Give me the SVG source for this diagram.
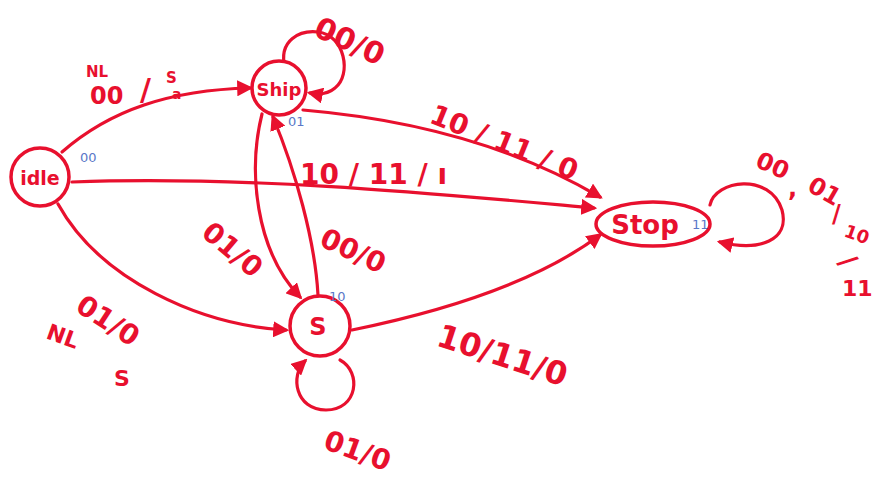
<svg xmlns="http://www.w3.org/2000/svg" width="873" height="478" viewBox="0 0 873 478">
<style>
.e{fill:none;stroke:#e8102e;stroke-width:3.2;stroke-linecap:round}
.n{fill:#fff;stroke:#e8102e;stroke-width:3.5}
.t{fill:#e8102e;font-family:"DejaVu Sans",sans-serif;font-weight:bold}
.b{fill:#5a78c8;font-family:"DejaVu Sans",sans-serif;font-size:13px}
</style>
<defs>
<marker id="a" viewBox="0 0 10 10" refX="8" refY="5" markerWidth="5" markerHeight="5" orient="auto">
<path d="M0,0 L10,5 L0,10 z" fill="#e8102e"/>
</marker>
</defs>
<rect width="873" height="478" fill="#fff"/>
<g id="connectors">
<path class="e" d="M62,152 C110,110 170,90 250,88" marker-end="url(#a)"/>
<path class="e" d="M72,182 C250,175 450,195 594,208" marker-end="url(#a)"/>
<path class="e" d="M303,110 C420,120 520,150 600,197" marker-end="url(#a)"/>
<path class="e" d="M285,68 C278,40 300,30 318,32 C345,35 352,75 335,88 C328,94 320,95 310,93" marker-end="url(#a)"/>
<path class="e" d="M262,114 C248,170 255,250 300,297" marker-end="url(#a)"/>
<path class="e" d="M318,295 C315,240 295,170 273,117" marker-end="url(#a)"/>
<path class="e" d="M58,204 C100,280 200,325 286,330" marker-end="url(#a)"/>
<path class="e" d="M352,330 C450,310 540,280 600,235" marker-end="url(#a)"/>
<path class="e" d="M340,360 C362,372 358,410 326,410 C295,410 290,375 305,361" marker-end="url(#a)"/>
<path class="e" d="M710,205 C715,180 770,172 782,210 C790,240 760,252 720,242" marker-end="url(#a)"/>
</g>
<g id="idle"><circle class="n" cx="40" cy="177" r="29"/><text class="t" x="40" y="185" font-size="19" text-anchor="middle">idle</text></g>
<g id="ship"><circle class="n" cx="279" cy="88" r="27"/><text class="t" x="279" y="96" font-size="18" text-anchor="middle">Ship</text></g>
<g id="stop"><ellipse class="n" cx="653" cy="224" rx="57" ry="22"/><text class="t" x="645" y="234" font-size="26" text-anchor="middle">Stop</text></g>
<g id="s"><circle class="n" cx="320" cy="326" r="30"/><text class="t" x="318" y="335" font-size="24" text-anchor="middle">S</text></g>
<g id="labels">
<text class="b" x="80" y="162">00</text>
<text class="b" x="288" y="126">01</text>
<text class="b" x="329" y="301">10</text>
<text class="b" x="692" y="229">11</text>
<text class="t" x="86" y="77" font-size="15">NL</text>
<text class="t" x="90" y="104" font-size="24">00</text>
<text class="t" x="140" y="100" font-size="30">/</text>
<text class="t" x="166" y="83" font-size="15">S</text>
<text class="t" x="172" y="99" font-size="14">a</text>
<text class="t" x="300" y="184" font-size="28">10 / 11 / ı</text>
<text class="t" transform="translate(428,122) rotate(22)" font-size="28">10 / 11 / 0</text>
<text class="t" transform="translate(312,35) rotate(25)" font-size="30">00/0</text>
<text class="t" transform="translate(200,235) rotate(40)" font-size="28">01/0</text>
<text class="t" transform="translate(318,245) rotate(25)" font-size="28">00/0</text>
<text class="t" transform="translate(74,310) rotate(33)" font-size="28">01/0</text>
<text class="t" transform="translate(45,338) rotate(20)" font-size="22">NL</text>
<text class="t" x="114" y="386" font-size="22">S</text>
<text class="t" transform="translate(435,345) rotate(18)" font-size="32">10/11/0</text>
<text class="t" transform="translate(322,448) rotate(20)" font-size="28">01/0</text>
<text class="t" transform="translate(754,166) rotate(25)" font-size="24">00</text>
<text class="t" x="788" y="196" font-size="24">,</text>
<text class="t" transform="translate(806,190) rotate(30)" font-size="24">01</text>
<text class="t" x="832" y="222" font-size="24">/</text>
<text class="t" transform="translate(843,236) rotate(20)" font-size="18">10</text>
<text class="t" transform="translate(838,262) rotate(55)" font-size="26">/</text>
<text class="t" x="842" y="296" font-size="22">11</text>
</g>
</svg>
